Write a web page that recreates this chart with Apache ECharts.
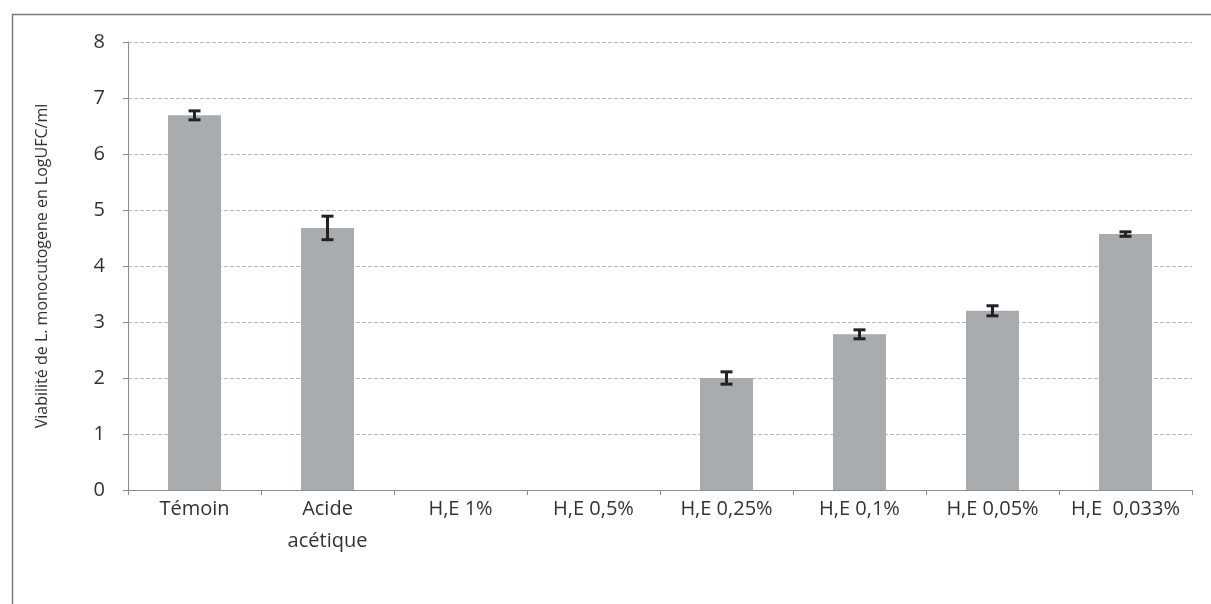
<!DOCTYPE html>
<html>
<head>
<meta charset="utf-8">
<script src="https://cdn.jsdelivr.net/npm/echarts@6/dist/echarts.min.js"></script>
<style>
    html, body { margin: 0; padding: 0; background: #fff; }
    #chart { width: 1211px; height: 604px; }
</style>
</head>
<body>
<div id="chart"></div>
<script>
// categories and values
var categories = ['Témoin', 'Acide\nacétique', 'H,E 1%', 'H,E 0,5%', 'H,E 0,25%', 'H,E 0,1%', 'H,E 0,05%', 'H,E  0,033%']
var viability = [6.69, 4.68, 0, 0, 2.0, 2.78, 3.2, 4.57]
var errors = [0.08, 0.21, 0, 0, 0.11, 0.08, 0.09, 0.04]
var yTicks = [0, 1, 2, 3, 4, 5, 6, 7, 8]

var myChart = echarts.init(document.getElementById('chart'))

var errData = viability.map(function(v, i) {
    return [i, v - errors[i], v + errors[i], errors[i]]
})

var option = {
    animation: false,
    textStyle: { fontFamily: 'Open Sans' },
    graphic: [{
        type: 'rect',
        shape: { x: 12.5, y: 14.5, width: 1230, height: 620 },
        style: { fill: 'none', stroke: '#7a7a7a', lineWidth: 1.5 }
    }],
    grid: { left: 128, right: 19, top: 42, bottom: 114 },
    xAxis: {
        type: 'category',
        data: categories,
        axisLine: { lineStyle: { color: '#8c8c8c' } },
        axisTick: { show: true, length: 5, lineStyle: { color: '#8c8c8c' } },
        axisLabel: {
            interval: 0,
            color: '#333',
            fontSize: 20,
            fontWeight: 500,
            lineHeight: 32,
            margin: 3
        }
    },
    yAxis: {
        type: 'value',
        min: yTicks[0],
        max: yTicks[yTicks.length - 1],
        interval: 1,
        name: 'Viabilité de L. monocutogene en LogUFC/ml',
        nameLocation: 'middle',
        nameGap: 78,
        nameTextStyle: { color: '#333', fontSize: 16, fontWeight: 500 },
        axisLine: { show: true, lineStyle: { color: '#8c8c8c' } },
        axisTick: { show: true, length: 5, lineStyle: { color: '#8c8c8c' } },
        axisLabel: { color: '#333', fontSize: 20, margin: 23 },
        splitLine: { lineStyle: { color: '#b8b8b8', type: [4, 2] } }
    },
    series: [
        {
            type: 'bar',
            data: viability,
            barWidth: 53,
            itemStyle: { color: '#a8acae' }
        },
        {
            type: 'custom',
            data: errData,
            z: 5,
            renderItem: function(params, api) {
                if (api.value(3) <= 0) return null
                var lo = api.coord([api.value(0), api.value(1)])
                var hi = api.coord([api.value(0), api.value(2)])
                var hw = 6
                var st = { stroke: '#222', lineWidth: 3 }
                return {
                    type: 'group',
                    children: [
                        { type: 'line', shape: { x1: hi[0], y1: hi[1], x2: lo[0], y2: lo[1] }, style: st },
                        { type: 'line', shape: { x1: hi[0] - hw, y1: hi[1], x2: hi[0] + hw, y2: hi[1] }, style: st },
                        { type: 'line', shape: { x1: lo[0] - hw, y1: lo[1], x2: lo[0] + hw, y2: lo[1] }, style: st }
                    ]
                }
            }
        }
    ]
}

myChart.setOption(option)
window.addEventListener('resize', function() {
    myChart.resize()
})
</script>
</body>
</html>
